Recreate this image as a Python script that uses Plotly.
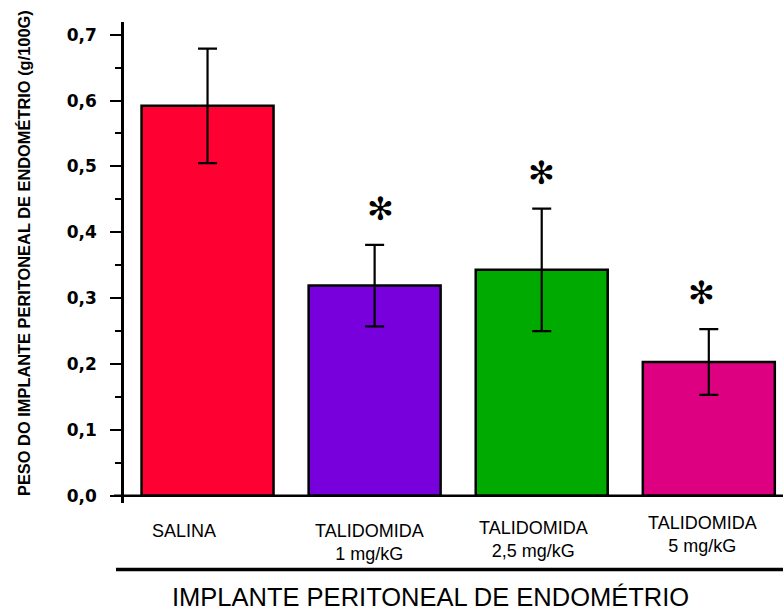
import plotly.graph_objects as go

# Endometrial implant weight (g/100g) per treatment group
groups = ["SALINA", "TALIDOMIDA<br>1 mg/kG", "TALIDOMIDA<br>2,5 mg/kG", "TALIDOMIDA<br>5 mg/kG"]
means = [0.592, 0.319, 0.343, 0.203]
errors = [0.087, 0.062, 0.093, 0.050]
colors = ["#FF0033", "#7700DD", "#00AA00", "#DD0080"]
significant = [False, True, True, True]

W, H = 783, 611
ML, MR, MT, MB = 124, 0, 22, 108
plot_w = W - ML - MR
plot_h = H - MT - MB


def px_x(px):
    return (px - ML) / plot_w


def px_y(py):
    return (H - MB - py) / plot_h


xs = list(range(len(groups)))

fig = go.Figure()
fig.add_trace(go.Bar(
    x=xs,
    y=means,
    width=0.79,
    marker=dict(color=colors, line=dict(color="black", width=2.5)),
    error_y=dict(type="data", array=errors, visible=True,
                 color="black", thickness=2.2, width=9.5),
    hoverinfo="skip",
))

# Group labels under the bars
label_pos = [(-0.14, 531), (-0.03, 542), (-0.05, 539), (-0.04, 534.5)]
annotations = []
for i, g in enumerate(groups):
    dx, py = label_pos[i]
    annotations.append(dict(
        x=xs[i] + dx, xref="x", y=px_y(py), yref="paper",
        text=g, showarrow=False, xanchor="center", yanchor="middle",
        font=dict(family="Liberation Sans, Arial", size=18, color="black"),
    ))

# Significance markers above the error bars
star_y = [None, 0.435, 0.490, 0.308]
star_dx = [0, 0.036, 0.0, -0.042]
for i, s in enumerate(significant):
    if s:
        annotations.append(dict(
            x=xs[i] + star_dx[i], xref="x", y=star_y[i], yref="y",
            text="✻", showarrow=False, xanchor="center", yanchor="middle",
            font=dict(family="DejaVu Sans", size=32, color="black"),
        ))

# Axis titles
annotations.append(dict(
    x=px_x(24), xref="paper", y=px_y(253), yref="paper",
    text="<b>PESO DO IMPLANTE PERITONEAL DE ENDOMÉTRIO (g/100G)</b>",
    textangle=-90, showarrow=False, xanchor="center", yanchor="middle",
    font=dict(family="Liberation Sans, Arial", size=16.4, color="black"),
))
annotations.append(dict(
    x=px_x(430), xref="paper", y=px_y(597), yref="paper",
    text="IMPLANTE PERITONEAL DE ENDOMÉTRIO", showarrow=False,
    xanchor="center", yanchor="middle",
    font=dict(family="Liberation Sans, Arial", size=25.5, color="black"),
))

shapes = [
    # baseline at zero
    dict(type="line", xref="paper", yref="y", x0=px_x(114), x1=1, y0=0, y1=0,
         line=dict(color="black", width=2.5)),
    # rule between group labels and axis title
    dict(type="line", xref="paper", yref="paper", x0=px_x(116), x1=1,
         y0=px_y(569.5), y1=px_y(569.5), line=dict(color="black", width=3.5)),
]

fig.update_layout(
    width=W, height=H,
    margin=dict(l=ML, r=MR, t=MT, b=MB, pad=0),
    paper_bgcolor="white", plot_bgcolor="white",
    showlegend=False,
    separators=",.",
    annotations=annotations,
    shapes=shapes,
    xaxis=dict(range=[-0.5, 3.444], showticklabels=False, showgrid=False,
               zeroline=False, showline=False, ticks=""),
    yaxis=dict(range=[-0.0111, 0.7193], tickmode="linear", tick0=0, dtick=0.1,
               tickformat=".1f", showgrid=False, zeroline=False,
               showline=True, linecolor="black", linewidth=2.5,
               ticks="outside", ticklen=11, tickwidth=2, tickcolor="black",
               ticklabelstandoff=10,
               tickfont=dict(family="DejaVu Sans", size=17, color="black", weight="bold"),
               minor=dict(dtick=0.05, tick0=0, ticks="outside", ticklen=6,
                          tickwidth=2, tickcolor="black")),
)

fig.write_html("out.html")
